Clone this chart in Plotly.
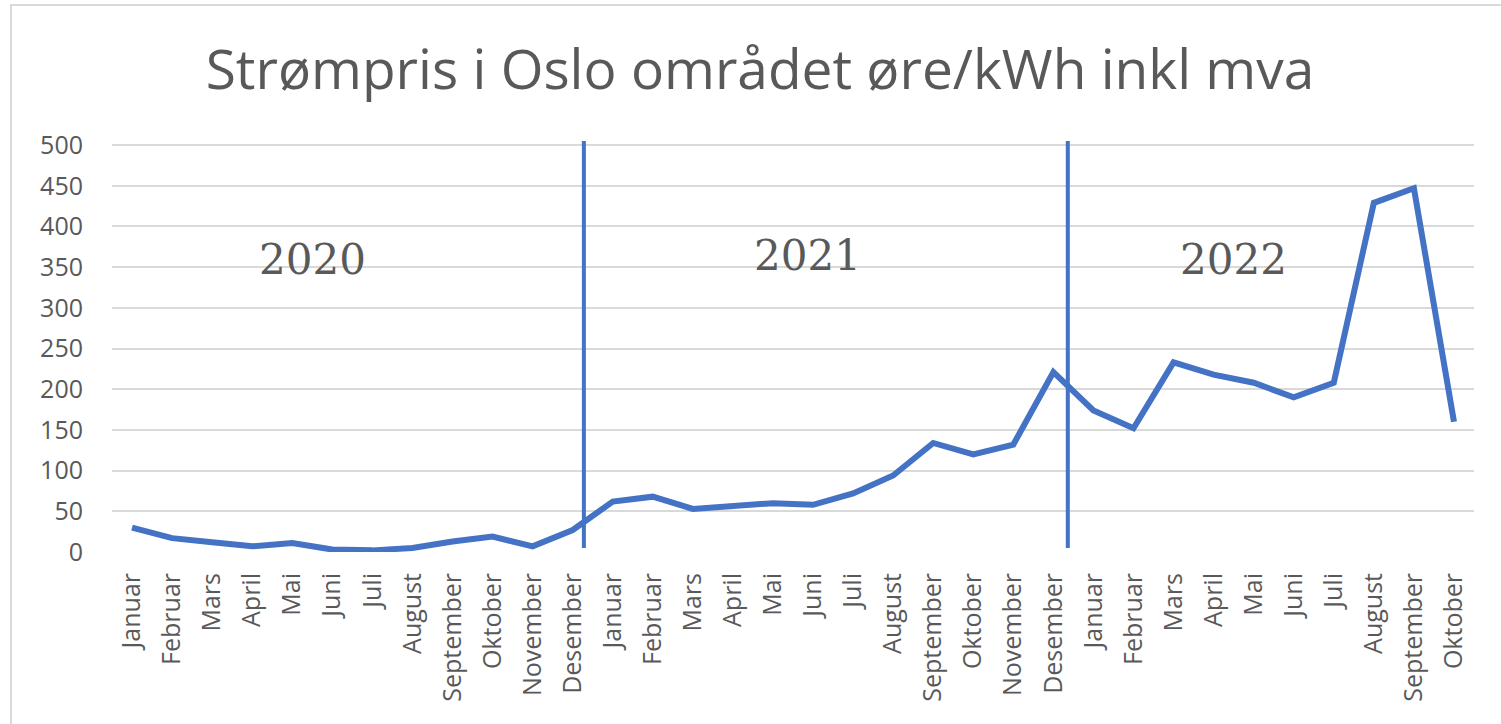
import plotly.graph_objects as go

months = ["Januar", "Februar", "Mars", "April", "Mai", "Juni", "Juli",
          "August", "September", "Oktober", "November", "Desember"]
tick_labels = months * 2 + months[:10]

prices = [30, 17, 12, 7, 11, 3, 2, 5, 13, 19, 7, 27,
          62, 68, 53, 56, 60, 58, 72, 94, 134, 120, 132, 221,
          174, 152, 233, 218, 208, 190, 208, 429, 447, 160]

year_labels = ["2020", "2021", "2022"]
year_label_x = [4.5, 16.85, 27.5]
year_label_y = [359, 364, 359]
year_dividers = [11.28, 23.36]

x_idx = list(range(len(prices)))

W, H = 1501, 724
L, R, T, B = 112, 27, 141, 172
PW, PH = W - L - R, H - T - B

fig = go.Figure()
fig.add_trace(go.Scatter(
    x=x_idx, y=prices, mode="lines",
    line=dict(color="#4472C4", width=6),
    showlegend=False, hoverinfo="x+y",
))

for xv in year_dividers:
    fig.add_shape(type="line", xref="x", yref="y", x0=xv, x1=xv, y0=5, y1=505,
                  line=dict(color="#4472C4", width=4))

for t, xv, yv in zip(year_labels, year_label_x, year_label_y):
    fig.add_annotation(x=xv, y=yv, xref="x", yref="y", text=t, showarrow=False,
                       font=dict(family="DejaVu Serif", size=42, color="#595959"))

# outer chart frame (left edge at px 11, top at px 5)
fig.add_shape(type="rect", xref="paper", yref="paper",
              x0=(11 - L) / PW, x1=1.1, y0=-0.6, y1=(H - B - 5) / PH,
              line=dict(color="#d9d9d9", width=2), fillcolor="rgba(0,0,0,0)", layer="below")

fig.update_layout(
    width=W, height=H, autosize=False,
    margin=dict(l=L, r=R, t=T, b=B),
    paper_bgcolor="white", plot_bgcolor="white",
    title=dict(text="Strømpris i Oslo området øre/kWh inkl mva",
               x=(760 - L) / PW, xanchor="center", xref="paper",
               y=(H - 70) / H, yanchor="middle", yref="container",
               font=dict(family="Open Sans", size=55, color="#595959")),
    font=dict(family="Open Sans", color="#595959"),
)

fig.update_xaxes(
    range=[-0.5, len(prices) - 0.5],
    tickmode="array", tickvals=x_idx, ticktext=tick_labels,
    tickangle=-90, tickfont=dict(size=25, color="#595959", family="Open Sans"),
    showgrid=False, zeroline=False, showline=False, ticks="",
    ticklabelstandoff=15,
)
fig.update_yaxes(
    range=[0, 505], tickmode="array", tickvals=list(range(0, 501, 50)),
    showgrid=True, gridcolor="#d9d9d9", gridwidth=2,
    zeroline=False, showline=False, ticks="",
    tickfont=dict(size=25, color="#595959", family="Open Sans"),
    ticklabelstandoff=28,
)

fig.write_html("out.html", config={"displayModeBar": False},
               post_script="document.body.style.margin='0';document.body.style.overflow='hidden';")
